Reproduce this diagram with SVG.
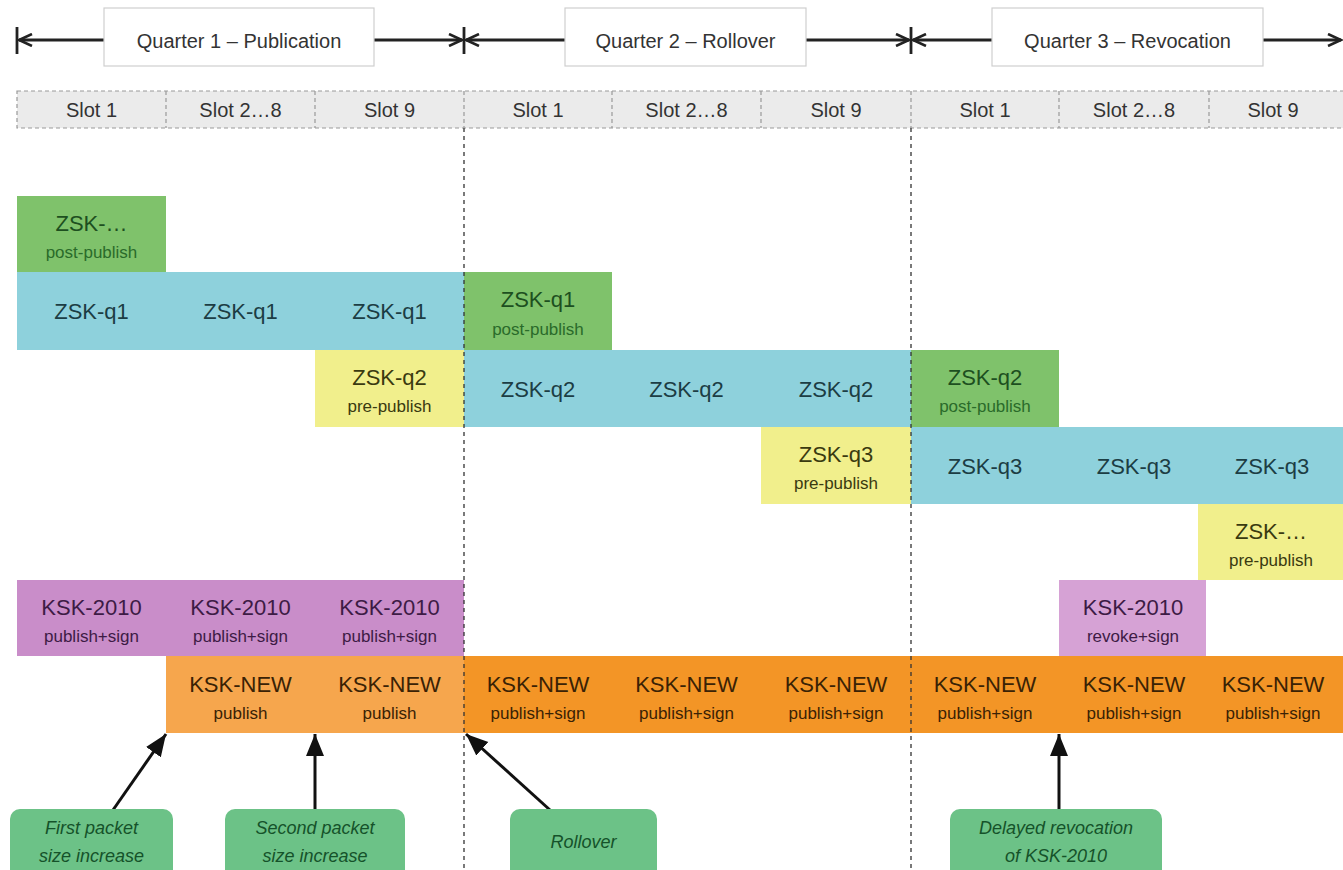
<svg xmlns="http://www.w3.org/2000/svg" width="1343" height="870" viewBox="0 0 1343 870">
<style>
text{font-family:"Liberation Sans",Arial,sans-serif;text-anchor:middle}
.hdr{font-size:20px;fill:#333}
.slot{font-size:20px;fill:#333}
.qbox{fill:#fff;stroke:#cfcfcf;stroke-width:1.2}
.slotbg{fill:#ebebeb;stroke:#999;stroke-width:1.2;stroke-dasharray:4 3}
.sep{stroke:#999;stroke-width:1.2;stroke-dasharray:4 3}
.qline{stroke:#222;stroke-width:2.8;fill:none}
.tick{stroke:#222;stroke-width:2.8}
.blue{fill:#8ed1dc}
.green{fill:#7fc26b}
.yellow{fill:#f1ef8c}
.purple{fill:#c98dc9}
.lpurple{fill:#d6a2d5}
.lorange{fill:#f6a64d}
.orange{fill:#f39526}
.main{font-size:22px}
.sub{font-size:17px}
.tblue{fill:#1c3d44}
.tgreen{fill:#1d4f1f}
.tgreen2{fill:#2a6b2a}
.tyellow{fill:#3a3a10}
.tpurple{fill:#3d1b45}
.torange{fill:#3a2205}
.vdash{stroke:#333;stroke-width:1.3;stroke-dasharray:4 4}
.arrow{stroke:#111;stroke-width:3;fill:none}
.callout{fill:#6cc287}
.ctext{font-size:18px;font-style:italic;fill:#15522a}
</style>
<defs>
<marker id="qh" markerWidth="16" markerHeight="14" refX="14" refY="7" orient="auto" markerUnits="userSpaceOnUse">
<path d="M1,1 L14,7 L1,13" fill="none" stroke="#222" stroke-width="2.6"/>
</marker>
<marker id="bh" markerWidth="24" markerHeight="22" refX="22" refY="11" orient="auto" markerUnits="userSpaceOnUse">
<path d="M0,2 L22,11 L0,20 Z" fill="#111"/>
</marker>
</defs>

<g id="quarters">
<line class="tick" x1="17" y1="27" x2="17" y2="54"/>
<line class="tick" x1="464" y1="27" x2="464" y2="54"/>
<line class="tick" x1="911" y1="27" x2="911" y2="54"/>
<line class="qline" x1="104" y1="40" x2="19" y2="40" marker-end="url(#qh)"/>
<line class="qline" x1="374" y1="40" x2="462" y2="40" marker-end="url(#qh)"/>
<line class="qline" x1="565" y1="40" x2="466" y2="40" marker-end="url(#qh)"/>
<line class="qline" x1="806" y1="40" x2="909" y2="40" marker-end="url(#qh)"/>
<line class="qline" x1="992" y1="40" x2="913" y2="40" marker-end="url(#qh)"/>
<line class="qline" x1="1263" y1="40" x2="1341" y2="40" marker-end="url(#qh)"/>
<g id="q1"><rect class="qbox" x="104" y="8" width="270" height="58"/><text class="hdr" x="239" y="48">Quarter 1 – Publication</text></g>
<g id="q2"><rect class="qbox" x="565" y="8" width="241" height="58"/><text class="hdr" x="685.5" y="48">Quarter 2 – Rollover</text></g>
<g id="q3"><rect class="qbox" x="992" y="8" width="271" height="58"/><text class="hdr" x="1127.5" y="48">Quarter 3 – Revocation</text></g>
</g>

<g id="slots">
<rect class="slotbg" x="17" y="91" width="1340" height="37"/>
<line class="sep" x1="166" y1="91" x2="166" y2="128"/>
<line class="sep" x1="315" y1="91" x2="315" y2="128"/>
<line class="sep" x1="464" y1="91" x2="464" y2="128"/>
<line class="sep" x1="612" y1="91" x2="612" y2="128"/>
<line class="sep" x1="761" y1="91" x2="761" y2="128"/>
<line class="sep" x1="911" y1="91" x2="911" y2="128"/>
<line class="sep" x1="1059" y1="91" x2="1059" y2="128"/>
<line class="sep" x1="1209" y1="91" x2="1209" y2="128"/>
<text class="slot" x="91.5" y="117">Slot 1</text>
<text class="slot" x="240.5" y="117">Slot 2…8</text>
<text class="slot" x="389.5" y="117">Slot 9</text>
<text class="slot" x="538" y="117">Slot 1</text>
<text class="slot" x="686.5" y="117">Slot 2…8</text>
<text class="slot" x="836" y="117">Slot 9</text>
<text class="slot" x="985" y="117">Slot 1</text>
<text class="slot" x="1134" y="117">Slot 2…8</text>
<text class="slot" x="1273" y="117">Slot 9</text>
</g>

<g id="zsk-prev-post">
<rect class="green" x="17" y="196" width="149" height="76"/>
<text class="main tgreen" x="91.5" y="231">ZSK-…</text>
<text class="sub tgreen2" x="91.5" y="258">post-publish</text>
</g>
<g id="zsk-q1">
<rect class="blue" x="17" y="272" width="447" height="78"/>
<text class="main tblue" x="91.5" y="319">ZSK-q1</text>
<text class="main tblue" x="240.5" y="319">ZSK-q1</text>
<text class="main tblue" x="389.5" y="319">ZSK-q1</text>
</g>
<g id="zsk-q1-post">
<rect class="green" x="464" y="272" width="148" height="78"/>
<text class="main tgreen" x="538" y="307">ZSK-q1</text>
<text class="sub tgreen2" x="538" y="335">post-publish</text>
</g>
<g id="zsk-q2-pre">
<rect class="yellow" x="315" y="350" width="149" height="77"/>
<text class="main tyellow" x="389.5" y="385">ZSK-q2</text>
<text class="sub tyellow" x="389.5" y="412">pre-publish</text>
</g>
<g id="zsk-q2">
<rect class="blue" x="464" y="350" width="447" height="77"/>
<text class="main tblue" x="538" y="397">ZSK-q2</text>
<text class="main tblue" x="686.5" y="397">ZSK-q2</text>
<text class="main tblue" x="836" y="397">ZSK-q2</text>
</g>
<g id="zsk-q2-post">
<rect class="green" x="911" y="350" width="148" height="77"/>
<text class="main tgreen" x="985" y="385">ZSK-q2</text>
<text class="sub tgreen2" x="985" y="412">post-publish</text>
</g>
<g id="zsk-q3-pre">
<rect class="yellow" x="761" y="427" width="150" height="77"/>
<text class="main tyellow" x="836" y="462">ZSK-q3</text>
<text class="sub tyellow" x="836" y="489">pre-publish</text>
</g>
<g id="zsk-q3">
<rect class="blue" x="911" y="427" width="432" height="77"/>
<text class="main tblue" x="985" y="474">ZSK-q3</text>
<text class="main tblue" x="1134" y="474">ZSK-q3</text>
<text class="main tblue" x="1272" y="474">ZSK-q3</text>
</g>
<g id="zsk-next-pre">
<rect class="yellow" x="1198" y="504" width="145" height="76"/>
<text class="main tyellow" x="1271" y="539">ZSK-…</text>
<text class="sub tyellow" x="1271" y="566">pre-publish</text>
</g>
<g id="ksk2010">
<rect class="purple" x="17" y="580" width="447" height="76"/>
<text class="main tpurple" x="91.5" y="615">KSK-2010</text>
<text class="sub tpurple" x="91.5" y="642">publish+sign</text>
<text class="main tpurple" x="240.5" y="615">KSK-2010</text>
<text class="sub tpurple" x="240.5" y="642">publish+sign</text>
<text class="main tpurple" x="389.5" y="615">KSK-2010</text>
<text class="sub tpurple" x="389.5" y="642">publish+sign</text>
</g>
<g id="ksk2010-revoke">
<rect class="lpurple" x="1059" y="580" width="147" height="76"/>
<text class="main tpurple" x="1133" y="615">KSK-2010</text>
<text class="sub tpurple" x="1133" y="642">revoke+sign</text>
</g>
<g id="ksknew-publish">
<rect class="lorange" x="166" y="656" width="298" height="77"/>
<text class="main torange" x="240.5" y="692">KSK-NEW</text>
<text class="sub torange" x="240.5" y="719">publish</text>
<text class="main torange" x="389.5" y="692">KSK-NEW</text>
<text class="sub torange" x="389.5" y="719">publish</text>
</g>
<g id="ksknew-sign">
<rect class="orange" x="464" y="656" width="879" height="77"/>
<text class="main torange" x="538" y="692">KSK-NEW</text>
<text class="sub torange" x="538" y="719">publish+sign</text>
<text class="main torange" x="686.5" y="692">KSK-NEW</text>
<text class="sub torange" x="686.5" y="719">publish+sign</text>
<text class="main torange" x="836" y="692">KSK-NEW</text>
<text class="sub torange" x="836" y="719">publish+sign</text>
<text class="main torange" x="985" y="692">KSK-NEW</text>
<text class="sub torange" x="985" y="719">publish+sign</text>
<text class="main torange" x="1134" y="692">KSK-NEW</text>
<text class="sub torange" x="1134" y="719">publish+sign</text>
<text class="main torange" x="1273" y="692">KSK-NEW</text>
<text class="sub torange" x="1273" y="719">publish+sign</text>
</g>

<g id="dividers">
<line class="vdash" x1="464" y1="128" x2="464" y2="870"/>
<line class="vdash" x1="911" y1="128" x2="911" y2="870"/>
</g>

<g id="connectors">
<line class="arrow" x1="113" y1="810" x2="166" y2="734" marker-end="url(#bh)"/>
<line class="arrow" x1="315" y1="810" x2="315" y2="734" marker-end="url(#bh)"/>
<line class="arrow" x1="550" y1="810" x2="466" y2="734" marker-end="url(#bh)"/>
<line class="arrow" x1="1059" y1="810" x2="1059" y2="734" marker-end="url(#bh)"/>
</g>

<g id="c-first">
<rect class="callout" x="10" y="809" width="163" height="72" rx="10"/>
<text class="ctext" x="91.5" y="834">First packet</text>
<text class="ctext" x="91.5" y="862">size increase</text>
</g>
<g id="c-second">
<rect class="callout" x="225" y="809" width="180" height="72" rx="10"/>
<text class="ctext" x="315" y="834">Second packet</text>
<text class="ctext" x="315" y="862">size increase</text>
</g>
<g id="c-rollover">
<rect class="callout" x="510" y="809" width="147" height="72" rx="10"/>
<text class="ctext" x="583.5" y="848">Rollover</text>
</g>
<g id="c-delayed">
<rect class="callout" x="950" y="809" width="212" height="72" rx="10"/>
<text class="ctext" x="1056" y="834">Delayed revocation</text>
<text class="ctext" x="1056" y="862">of KSK-2010</text>
</g>
</svg>
